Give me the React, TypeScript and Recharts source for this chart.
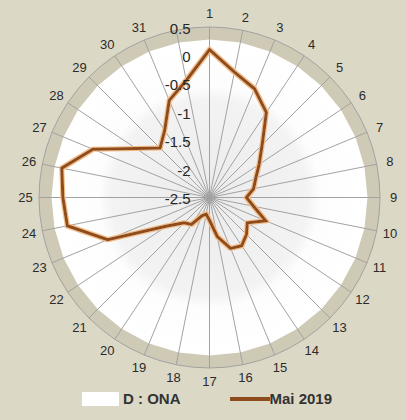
import {
  Legend,
  PolarAngleAxis,
  PolarGrid,
  PolarRadiusAxis,
  Radar,
  RadarChart,
} from "recharts";

// 32 spokes: days 1..31 plus one unlabelled slot
const days = [
  "1", "2", "3", "4", "5", "6", "7", "8", "9", "10", "11", "12", "13", "14", "15", "16",
  "17", "18", "19", "20", "21", "22", "23", "24", "25", "26", "27", "28", "29", "30", "31", "",
];
const mai2019 = [
  0.1, -0.25, -0.43, -0.7, -1.19, -1.45, -1.62, -1.71, -1.85, -1.71, -1.43, -1.7, -1.58, -1.48, -1.53, -1.8,
  -2.1, -2.2, -2.15, -1.93, -1.87, -1.6, -0.56, 0.05, 0.08, 0.15, -0.28, -0.95, -1.27, -1.08, -0.65, -0.4,
];
const dOna = [
  0.28, 0.28, 0.28, 0.28, 0.28, 0.28, 0.28, 0.28, 0.28, 0.28, 0.28, 0.28, 0.28, 0.28, 0.28, 0.28,
  0.28, 0.28, 0.28, 0.28, 0.28, 0.28, 0.28, 0.28, 0.28, 0.28, 0.28, 0.28, 0.28, 0.28, 0.28, 0.28,
];
const radiusTicks = [-2.5, -2, -1.5, -1, -0.5, 0, 0.5];

const data = days.map((day, i) => ({ day, mai: mai2019[i], ona: dOna[i] }));

const W = 406;
const H = 420;
const CX = 209.5;
const CY = 197.5;
const R = 170.5; // where 0.5 sits (outer circle)
// recharts pads the radius domain up to 1, so scale the radius so 0.5 still lands on R
const DOMAIN: [number, number] = [-2.5, 1];
const R_SCALE = (R * (DOMAIN[1] - DOMAIN[0])) / 3;
const FONT = "'Liberation Sans', Arial, sans-serif";
const BROWN = "#8e4c1c";

function DayTick(props: any) {
  const { x, y, payload } = props;
  if (!payload?.value) return null;
  const k = 184 / Math.hypot(x - CX, y - CY);
  return (
    <text
      x={CX + (x - CX) * k}
      y={CY + (y - CY) * k}
      textAnchor="middle"
      dominantBaseline="central"
      fontSize={13}
      fontFamily={FONT}
      fill="#2b2b2b"
    >
      {payload.value}
    </text>
  );
}

function ValueTick(props: any) {
  const { x, y, payload } = props;
  return (
    <text
      x={x - 19}
      y={y + 1}
      textAnchor="end"
      dominantBaseline="central"
      fontSize={15}
      fontFamily={FONT}
      fill="#262626"
    >
      {payload.value}
    </text>
  );
}

function LegendBox() {
  return (
    <div style={{ display: "flex", alignItems: "center", fontFamily: FONT, fontWeight: 700, fontSize: 15, color: "#333" }}>
      <div style={{ width: 37, height: 14, background: "#ffffff", marginLeft: 82 }} />
      <span style={{ marginLeft: 4 }}>D : ONA</span>
      <div style={{ width: 40, height: 4, background: BROWN, marginLeft: 49 }} />
      <span>Mai 2019</span>
    </div>
  );
}

export default function App() {
  return (
    <div style={{ position: "absolute", left: 0, top: 0, width: W, height: H, background: "#dcd8c6" }}>
      {/* spokes stop at the outer circle */}
      <style>{`.recharts-polar-grid-angle { clip-path: url(#ringClip); }`}</style>
      <div
        style={{
          position: "absolute",
          left: CX - R,
          top: CY - R,
          width: 2 * R,
          height: 2 * R,
          borderRadius: "50%",
          background: "#cfcab5",
        }}
      />
      <div style={{ position: "absolute", left: 0, top: 0 }}>
        <RadarChart width={W} height={H} data={data} cx={CX} cy={CY} outerRadius={R_SCALE} margin={{ top: 0, right: 0, bottom: 0, left: 0 }}>
          <defs>
            <clipPath id="ringClip" clipPathUnits="userSpaceOnUse">
              <circle cx={CX} cy={CY} r={R} />
            </clipPath>
            <radialGradient id="onaFill" cx="50%" cy="50%" r="50%">
              <stop offset="0%" stopColor="#ebebeb" />
              <stop offset="62%" stopColor="#f3f3f3" />
              <stop offset="70%" stopColor="#fdfdfd" />
              <stop offset="100%" stopColor="#ffffff" />
            </radialGradient>
            <filter id="lineGlow" x="-10%" y="-10%" width="120%" height="120%">
              <feMorphology in="SourceAlpha" operator="dilate" radius="1" result="d" />
              <feFlood floodColor="#f3bf8c" result="c" />
              <feComposite in="c" in2="d" operator="in" result="g" />
              <feMerge>
                <feMergeNode in="g" />
                <feMergeNode in="SourceGraphic" />
              </feMerge>
            </filter>
          </defs>
          <Radar
            name="D : ONA"
            dataKey="ona"
            stroke="none"
            fill="url(#onaFill)"
            fillOpacity={1}
            isAnimationActive={false}
            zIndex={-200}
          />
          <PolarGrid gridType="circle" polarRadius={[R]} stroke="#a2a2a2" strokeWidth={1} />
          <PolarAngleAxis dataKey="day" tick={<DayTick />} tickLine={false} axisLine={false} />
          <PolarRadiusAxis
            angle={90}
            type="number"
            domain={DOMAIN}
            ticks={radiusTicks}
            allowDataOverflow
            orientation="left"
            axisLine={false}
            tickLine={false}
            tick={<ValueTick />}
          />
          <Radar
            name="Mai 2019"
            dataKey="mai"
            stroke={BROWN}
            strokeWidth={3}
            fill="none"
            fillOpacity={0}
            filter="url(#lineGlow)"
            dot={false}
            isAnimationActive={false}
          />
          <Legend content={<LegendBox />} wrapperStyle={{ left: 0, top: 390, width: W }} />
        </RadarChart>
      </div>
    </div>
  );
}
